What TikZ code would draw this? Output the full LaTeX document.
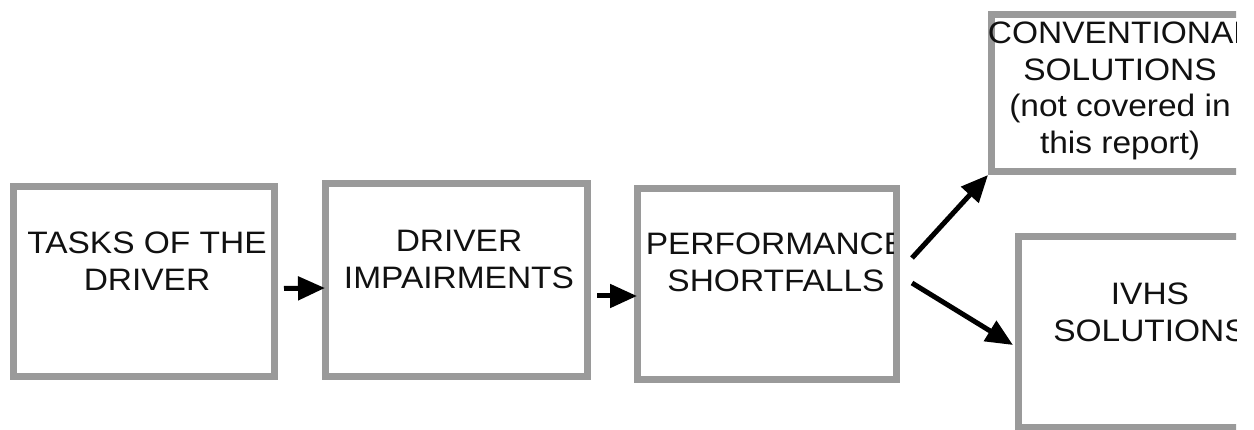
\documentclass[tikz,border=0pt]{standalone}
\usepackage{fontspec}
\setmainfont{Liberation Sans}
\newfontfamily\boxfont[FakeStretch=1.08]{Liberation Sans}
\usetikzlibrary{arrows.meta}
\definecolor{boxgray}{HTML}{9A9A9A}
\definecolor{txt}{HTML}{111111}
\begin{document}
\begin{tikzpicture}[x=1pt,y=-1pt,
  box/.style={draw=boxgray, line width=7pt, fill=white, inner sep=0pt},
  lbl/.style={font=\boxfont\fontsize{31}{36.5}\selectfont, align=center, anchor=north, inner sep=0pt, text=txt},
  arr/.style={line width=5pt, -{Triangle[length=27pt,width=23pt]}}]
\useasboundingbox (0,0) rectangle (1254,430);
\fill[white] (0,0) rectangle (1254,430);
\begin{scope}
\clip (0,0) rectangle (1236,430);
% boxes
\node[box, minimum width=261pt, minimum height=190pt] (b1) at (144,281.5) {};
\node[box, minimum width=262pt, minimum height=193pt] (b2) at (456.5,280) {};
\node[box, minimum width=259pt, minimum height=191pt] (b3) at (767,284) {};
\node[box, minimum width=257pt, minimum height=157pt] (b4) at (1120,93) {};
\node[box, minimum width=263pt, minimum height=191pt] (b5) at (1150,332) {};
% labels
\node[lbl] (t1) at (147,232) {TASKS OF THE\\DRIVER};
\node[lbl] (t2) at (459,230) {DRIVER\\IMPAIRMENTS};
\begin{scope}
\clip ([shift={(7pt,7pt)}]b3.south west) rectangle ([shift={(-7pt,-7pt)}]b3.north east);
\node[lbl] (t3) at (776,233) {PERFORMANCE\\SHORTFALLS};
\end{scope}
\node[lbl] (t4) at (1120,22) {CONVENTIONAL\\SOLUTIONS\\(not covered in\\this report)};
\node[lbl] (t5) at (1150,283) {IVHS\\SOLUTIONS};
% connectors
\draw[arr] ([xshift=6pt,yshift=-7pt]b1.east) -- ([xshift=3pt,yshift=-8pt]b2.west);
\draw[arr] ([xshift=6pt,yshift=-16pt]b2.east) -- ([xshift=3pt,yshift=-12pt]b3.west);
\draw[arr] ([xshift=12pt,yshift=26pt]b3.east) -- (b4.south west);
\draw[arr] ([xshift=12pt,yshift=1pt]b3.east) -- ([xshift=-2pt,yshift=-13pt]b5.west);
\end{scope}
\end{tikzpicture}
\end{document}
